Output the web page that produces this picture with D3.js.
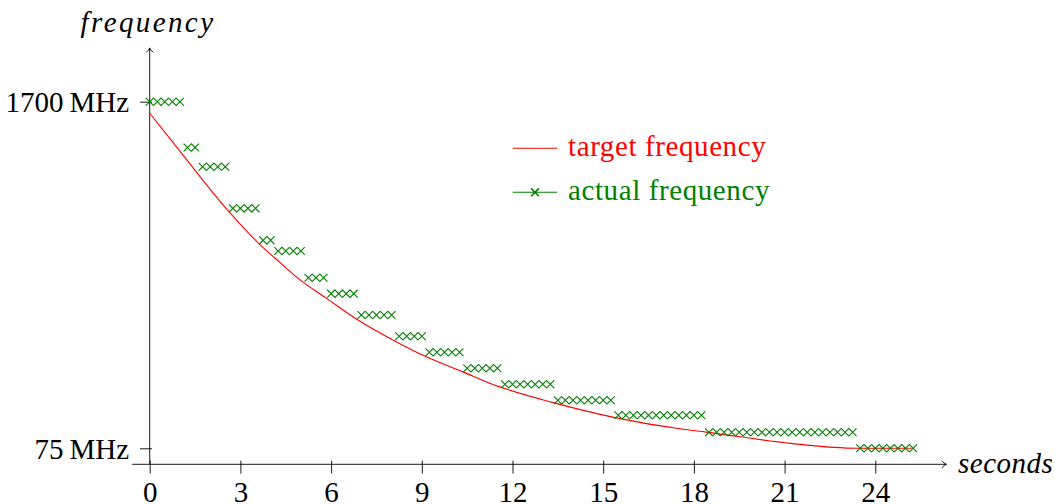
<!DOCTYPE html>
<html>
<head>
<meta charset="utf-8">
<script src="https://cdn.jsdelivr.net/npm/d3@7"></script>
<style>
  body { margin: 0; background: #fff; }
  svg { display: block; }
  text { font-family: "Liberation Serif", serif; }
</style>
</head>
<body>
<svg id="chart" width="1055" height="504"></svg>
<script>
// ---- data ----
var xTicks = [0, 3, 6, 9, 12, 15, 18, 21, 24];
var yTicks = [75, 1700];
var yTickLabels = ["75\u2009MHz", "1700\u2009MHz"];

// target frequency, (seconds, MHz)
var targetTime = [0, 0.9, 2.6, 3.6, 4.15, 4.95, 5.85, 6.85, 8.15, 9.15, 10.4, 11.25, 13.35, 15.35, 17.65, 18.4, 21.2, 23.4, 25.2];
var targetFreq = [1646, 1486, 1188, 1036, 966, 867, 778, 680, 575, 504, 431, 380, 289, 220, 164, 151, 98, 75, 75];

// actual frequency, one sample every 0.25 s
var sampleStep = 0.25;
var actualFreq = [
    1700, 1700, 1700, 1700, 1700,
    1485, 1485,
    1395, 1395, 1395, 1395,
    1200, 1200, 1200, 1200,
    1050, 1050,
    1000, 1000, 1000, 1000,
    875, 875, 875,
    800, 800, 800, 800,
    700, 700, 700, 700, 700,
    600, 600, 600, 600,
    525, 525, 525, 525, 525,
    450, 450, 450, 450, 450,
    375, 375, 375, 375, 375, 375, 375,
    300, 300, 300, 300, 300, 300, 300, 300,
    230, 230, 230, 230, 230, 230, 230, 230, 230, 230, 230, 230,
    150, 150, 150, 150, 150, 150, 150, 150, 150, 150, 150, 150, 150, 150, 150, 150, 150, 150, 150, 150,
    75, 75, 75, 75, 75, 75, 75, 75
];

var legendLabels = ["target frequency", "actual frequency"];
var red = "#ff0000";
var green = "#008000";

// ---- scales ----
var svg = d3.select("#chart");
var x = d3.scaleLinear().domain([0, 24]).range([149.7, 875.3]);
var y = d3.scaleLinear().domain([75, 1700]).range([448.3, 101.7]);
var x0 = x(0), y0 = y(0);

// ---- axes ----
var axisColor = "#000";

// x axis line with arrow
svg.append("line")
    .attr("x1", x(-0.58)).attr("x2", x(26.35))
    .attr("y1", y0).attr("y2", y0)
    .attr("stroke", axisColor).attr("stroke-width", 0.9);
svg.append("path")
    .attr("d", arrowPath(x(26.35), y0, "right"))
    .attr("fill", "none").attr("stroke", axisColor).attr("stroke-width", 0.9);

// y axis line with arrow
svg.append("line")
    .attr("x1", x0).attr("x2", x0)
    .attr("y1", y0).attr("y2", y(1952))
    .attr("stroke", axisColor).attr("stroke-width", 0.9);
svg.append("path")
    .attr("d", arrowPath(x0, y(1952), "up"))
    .attr("fill", "none").attr("stroke", axisColor).attr("stroke-width", 0.9);

function arrowPath(tx, ty, dir) {
    if (dir == "right")
        return `M${tx - 4.5},${ty - 3.5} Q${tx - 2},${ty - 0.6} ${tx},${ty} Q${tx - 2},${ty + 0.6} ${tx - 4.5},${ty + 3.5}`;
    return `M${tx - 3.5},${ty + 4.5} Q${tx - 0.6},${ty + 2} ${tx},${ty} Q${tx + 0.6},${ty + 2} ${tx + 3.5},${ty + 4.5}`;
}

var gx = svg.append("g")
    .attr("transform", `translate(0,${y0})`)
    .call(d3.axisBottom(x).tickValues(xTicks).tickSize(9.3).tickFormat(d3.format("d")));
gx.select(".domain").remove();
gx.selectAll(".tick line").attr("y1", -3.7).attr("stroke", axisColor).attr("stroke-width", 0.9);
gx.selectAll(".tick text")
    .attr("y", 502.5 - y0).attr("dy", null)
    .attr("fill", "#000")
    .style("font-family", "'Liberation Serif', serif")
    .style("font-size", "29px");

var gy = svg.append("g")
    .attr("transform", `translate(${x0},0)`)
    .call(d3.axisLeft(y).tickValues(yTicks).tickSize(9.7)
        .tickFormat(function (d, i) { return yTickLabels[i]; }));
gy.select(".domain").remove();
gy.selectAll(".tick line").attr("x1", 2.3).attr("stroke", axisColor).attr("stroke-width", 0.9);
gy.selectAll(".tick text")
    .attr("x", 129 - x0).attr("dy", "9.8")
    .attr("fill", "#000")
    .style("font-family", "'Liberation Serif', serif")
    .style("font-size", "29px");

// axis titles
svg.append("text")
    .attr("x", 148).attr("y", 31.7)
    .attr("text-anchor", "middle")
    .attr("font-style", "italic")
    .attr("font-size", 29)
    .attr("letter-spacing", 2.4)
    .text("frequency");
svg.append("text")
    .attr("x", 958).attr("y", 473.3)
    .attr("font-style", "italic")
    .attr("font-size", 29)
    .attr("letter-spacing", 0.5)
    .text("seconds");

// ---- target curve ----
var targetData = targetTime.map((t, i) => [t, targetFreq[i]]);
var line = d3.line()
    .x((d) => x(d[0]))
    .y((d) => y(d[1]))
    .curve(d3.curveMonotoneX);
svg.append("path")
    .datum(targetData)
    .attr("d", line)
    .attr("fill", "none")
    .attr("stroke", red)
    .attr("stroke-width", 1.1);

// ---- actual frequency marks ----
var hs = 3.9;
function crossPath(cx, cy) {
    return `M${cx - hs},${cy - hs}L${cx + hs},${cy + hs}M${cx - hs},${cy + hs}L${cx + hs},${cy - hs}`;
}
svg.append("g")
    .selectAll("path")
    .data(actualFreq)
    .enter()
    .append("path")
    .attr("d", (d, i) => crossPath(x(i * sampleStep), y(d)))
    .attr("fill", "none")
    .attr("stroke", green)
    .attr("stroke-width", 1.1);

// ---- legend ----
var legend = svg.append("g");
legend.append("line")
    .attr("x1", 512.7).attr("x2", 557).attr("y1", 148.3).attr("y2", 148.3)
    .attr("stroke", red).attr("stroke-width", 1.1);
legend.append("text")
    .attr("x", 568).attr("y", 156)
    .attr("fill", red).attr("font-size", 29).attr("letter-spacing", 0.6)
    .text(legendLabels[0]);
legend.append("line")
    .attr("x1", 512.7).attr("x2", 557).attr("y1", 192.3).attr("y2", 192.3)
    .attr("stroke", green).attr("stroke-width", 1.1);
legend.append("path")
    .attr("d", crossPath(535, 192.3))
    .attr("fill", "none").attr("stroke", green).attr("stroke-width", 1.6);
legend.append("text")
    .attr("x", 568).attr("y", 200)
    .attr("fill", green).attr("font-size", 29).attr("letter-spacing", 0.6)
    .text(legendLabels[1]);
</script>
</body>
</html>
